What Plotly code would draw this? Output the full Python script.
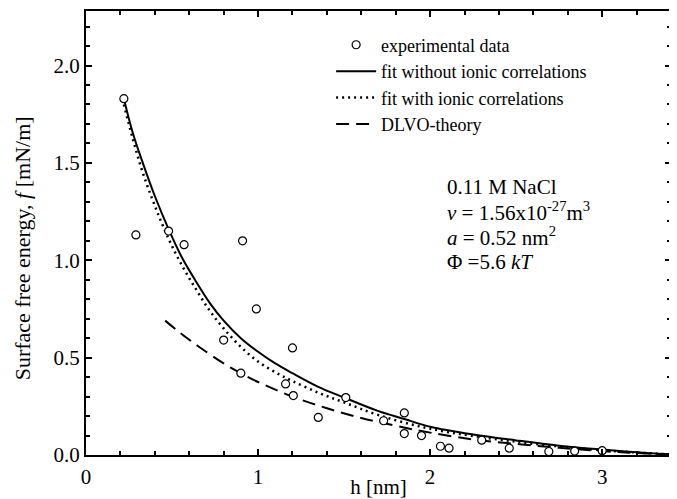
import plotly.graph_objects as go

# experimental data
h_exp = [0.22, 0.29, 0.48, 0.57, 0.91, 0.99, 0.80, 1.20, 0.90, 1.16, 1.205, 1.51, 1.35,
         1.73, 1.85, 1.85, 1.95, 2.06, 2.11, 2.30, 2.46, 2.69, 2.84, 3.00]
f_exp = [1.83, 1.13, 1.15, 1.08, 1.10, 0.75, 0.59, 0.55, 0.42, 0.365, 0.305, 0.295, 0.193,
         0.176, 0.216, 0.11, 0.10, 0.045, 0.035, 0.076, 0.035, 0.018, 0.02, 0.022]

# fit without ionic correlations (solid)
h_fit1 = [0.22, 0.27, 0.33, 0.40, 0.48, 0.56, 0.64, 0.72, 0.80, 0.90, 1.00, 1.10, 1.20,
          1.35, 1.50, 1.70, 1.85, 2.00, 2.25, 2.50, 2.75, 3.00, 3.20, 3.40]
f_fit1 = [1.83, 1.66, 1.50, 1.33, 1.16, 1.01, 0.89, 0.78, 0.69, 0.60, 0.53, 0.47, 0.42,
          0.35, 0.295, 0.225, 0.185, 0.145, 0.105, 0.075, 0.048, 0.028, 0.014, 0.003]

# fit with ionic correlations (dotted)
h_fit2 = [0.22, 0.27, 0.33, 0.40, 0.48, 0.56, 0.64, 0.72, 0.80, 0.90, 1.00, 1.10, 1.20,
          1.35, 1.50, 1.70, 2.00, 2.50, 3.00, 3.40]
f_fit2 = [1.80, 1.63, 1.45, 1.28, 1.11, 0.97, 0.85, 0.74, 0.65, 0.555, 0.48, 0.425, 0.38,
          0.32, 0.27, 0.205, 0.135, 0.068, 0.025, 0.003]

# DLVO theory (dashed)
h_dlvo = [0.46, 0.55, 0.65, 0.80, 0.90, 1.00, 1.20, 1.40, 1.60, 1.80, 2.00, 2.25, 2.50,
          2.75, 3.00, 3.20, 3.40]
f_dlvo = [0.69, 0.625, 0.56, 0.47, 0.42, 0.375, 0.30, 0.24, 0.19, 0.15, 0.115, 0.08, 0.057,
          0.037, 0.02, 0.01, 0.003]

x_ticks = [0, 1, 2, 3]
y_ticks = [0.0, 0.5, 1.0, 1.5, 2.0]

FONT = "Liberation Serif"

fig = go.Figure()
fig.add_trace(go.Scatter(x=h_fit1, y=f_fit1, mode="lines", name="fit without ionic correlations",
                         line=dict(color="black", width=2, shape="spline", smoothing=1.0), legendrank=2))
fig.add_trace(go.Scatter(x=h_fit2, y=f_fit2, mode="lines", name="fit with ionic correlations",
                         line=dict(color="black", width=2.5, dash="2px,4px", shape="spline", smoothing=1.0),
                         legendrank=3))
fig.add_trace(go.Scatter(x=h_dlvo, y=f_dlvo, mode="lines", name="DLVO-theory",
                         line=dict(color="black", width=2, dash="13px,7px", shape="spline", smoothing=1.0),
                         legendrank=4))
fig.add_trace(go.Scatter(x=h_exp, y=f_exp, mode="markers", name="experimental data",
                         marker=dict(symbol="circle", size=8, color="white",
                                     line=dict(color="black", width=1.2)), legendrank=1))

axis_common = dict(showline=True, linecolor="black", linewidth=2, mirror="allticks",
                   ticks="inside", ticklen=6, tickwidth=1.5, tickcolor="black",
                   showgrid=False, zeroline=False, automargin=False,
                   tickfont=dict(family=FONT, size=21, color="black"))

fig.update_xaxes(range=[0, 3.4], tickvals=x_ticks, ticktext=[str(v) for v in x_ticks],
                 ticklabelstandoff=2,
                 minor=dict(dtick=0.2, tick0=0, ticks="inside", ticklen=4, tickcolor="black", tickwidth=1.5),
                 title=dict(text="h [nm]", font=dict(family=FONT, size=21, color="black"), standoff=0),
                 **axis_common)
fig.update_yaxes(range=[0, 2.28], tickvals=y_ticks, ticktext=[f"{v:.1f}" for v in y_ticks],
                 minor=dict(dtick=0.1, tick0=0, ticks="inside", ticklen=4, tickcolor="black", tickwidth=1.5),
                 **axis_common)

# y-axis title
fig.add_annotation(text="Surface free energy, <i>f</i> [mN/m]", xref="paper", yref="paper",
                   x=-0.109, y=0.466, xanchor="center", yanchor="middle", textangle=-90,
                   showarrow=False, font=dict(family=FONT, size=22, color="black"))

ann_font = dict(family=FONT, size=21, color="black")
ann_lines = ["0.11 M NaCl",
             "<i>v</i> = 1.56x10<sup>-27</sup>m<sup>3</sup>",
             "<i>a</i> = 0.52 nm<sup>2</sup>",
             "Φ =5.6 <i>kT</i>"]
ann_y = [0.603, 0.549, 0.492, 0.434]
for txt, yy in zip(ann_lines, ann_y):
    fig.add_annotation(text=txt, xref="paper", yref="paper", x=0.614, y=yy,
                       xanchor="left", yanchor="middle", showarrow=False, font=ann_font)

# page body has an 8px margin: figure is sized so that it fits the 677x499 window
fig.update_layout(
    width=669, height=491,
    margin=dict(l=78, r=6, t=3, b=44),
    paper_bgcolor="white", plot_bgcolor="white",
    font=dict(family=FONT, size=19, color="black"),
    legend=dict(x=0.419, y=0.965, xanchor="left", yanchor="top", bgcolor="rgba(0,0,0,0)",
                font=dict(family=FONT, size=18, color="black"), tracegroupgap=0, itemwidth=40),
    showlegend=True,
)

fig.write_html("out.html")
